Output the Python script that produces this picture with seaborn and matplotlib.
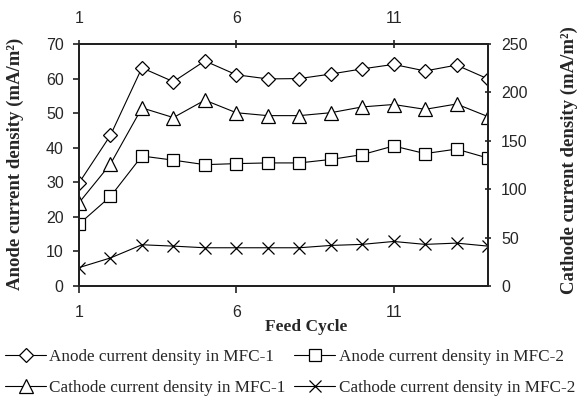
import matplotlib
matplotlib.use("Agg")
import matplotlib.pyplot as plt
import seaborn as sns

# ---- data ----
cycles = list(range(1, 15))
anode_mfc1 = [29.8, 43.6, 63.1, 59.1, 65.1, 61.1, 59.9, 60.0, 61.3, 62.8, 64.1, 62.2, 63.9, 59.9]
anode_mfc2 = [17.9, 25.9, 37.6, 36.4, 35.1, 35.4, 35.6, 35.6, 36.6, 38.0, 40.5, 38.3, 39.6, 37.0]
cathode_mfc1 = [86, 126, 184, 174, 192, 179, 176, 176, 179, 185, 187.5, 182.5, 188, 175]
cathode_mfc2 = [19, 29, 42.6, 41.2, 39.5, 39.5, 39.5, 39.5, 41.9, 43, 46, 43, 44.3, 41.2]

labels = ["Anode current density in MFC-1", "Anode current density in MFC-2",
          "Cathode current density in MFC-1", "Cathode current density in MFC-2"]
x_ticks = [1, 6, 11]
left_ticks = [0, 10, 20, 30, 40, 50, 60, 70]
right_ticks = [0, 50, 100, 150, 200, 250]
x_label = "Feed Cycle"
left_label = "Anode current density (mA/m²)"
right_label = "Cathode current density (mA/m²)"

sns.set_style("white")
plt.rcParams["font.family"] = ["Liberation Sans", "DejaVu Sans"]
SERIF = ["Liberation Serif", "DejaVu Serif"]

W, H = 582, 397
fig = plt.figure(figsize=(W / 100, H / 100), dpi=100)
L, R, T, B = 79, 488, 44, 286
ax = fig.add_axes([L / W, 1 - B / H, (R - L) / W, (B - T) / H])
ax2 = ax.twinx()

spine_c = "#222222"
lw = 0.8
common = dict(color="black", linewidth=lw, markerfacecolor="white",
              markeredgecolor="black", markeredgewidth=0.9)

sns.lineplot(x=cycles, y=anode_mfc1, ax=ax, marker="D", markersize=7, label=labels[0], **common)
sns.lineplot(x=cycles, y=anode_mfc2, ax=ax, marker="s", markersize=8, label=labels[1], **common)
sns.lineplot(x=cycles, y=cathode_mfc1, ax=ax2, marker="^", markersize=9.5, label=labels[2], **common)
sns.lineplot(x=cycles, y=cathode_mfc2, ax=ax2, marker="x", markersize=8.5, label=labels[3], **common)

for a in (ax, ax2):
    if a.get_legend() is not None:
        a.get_legend().remove()

ax.set_xlim(1, 14)
ax.set_ylim(0, 70)
ax2.set_ylim(0, 250)
ax.set_xticks(x_ticks)
ax.set_yticks(left_ticks)
ax2.set_yticks(right_ticks)
ax.set_xlabel("")
ax.set_ylabel("")
ax2.set_ylabel("")

for a in (ax, ax2):
    for s in a.spines.values():
        s.set_color(spine_c)
        s.set_linewidth(1.4)

tick_fs = 11.5
ax.tick_params(axis="y", direction="out", length=4, width=1.2, color=spine_c, pad=7,
               labelsize=tick_fs, left=True)
ax.tick_params(axis="x", direction="out", length=5, width=1.2, color=spine_c, pad=8.5,
               labelsize=tick_fs, bottom=True)
ax2.tick_params(axis="y", direction="inout", length=5, width=1.2, color=spine_c, pad=7,
                labelsize=tick_fs, right=True)

top = ax.secondary_xaxis("top")
top.set_xticks(x_ticks)
top.tick_params(direction="inout", length=5.5, width=1.2, color=spine_c, pad=10.5, labelsize=tick_fs)
top.spines["top"].set_color(spine_c)
top.spines["top"].set_linewidth(1.4)

# axis titles
fig.text(306 / W, 1 - 327 / H, x_label, ha="center", va="center",
         fontsize=12.5, fontweight="bold", family=SERIF)
fig.text(15 / W, 1 - 164 / H, left_label, ha="center", va="center", rotation=90,
         fontsize=13.5, fontweight="bold", family=SERIF)
fig.text(569 / W, 1 - 160 / H, right_label, ha="center", va="center", rotation=90,
         fontsize=13.5, fontweight="bold", family=SERIF)

h1, l1 = ax.get_legend_handles_labels()
h2, l2 = ax2.get_legend_handles_labels()
hd = dict(zip(l1 + l2, h1 + h2))
order = [labels[0], labels[2], labels[1], labels[3]]
fig.legend([hd[k] for k in order], order, loc="upper left", ncol=2,
           bbox_to_anchor=(5 / W, 1 - 349 / H), frameon=False,
           borderaxespad=0, borderpad=0, handlelength=2.4, handletextpad=0.2,
           columnspacing=0.5, labelspacing=0.87,
           prop=dict(family=SERIF, size=12.3))

fig.savefig("out.png", dpi=100)
